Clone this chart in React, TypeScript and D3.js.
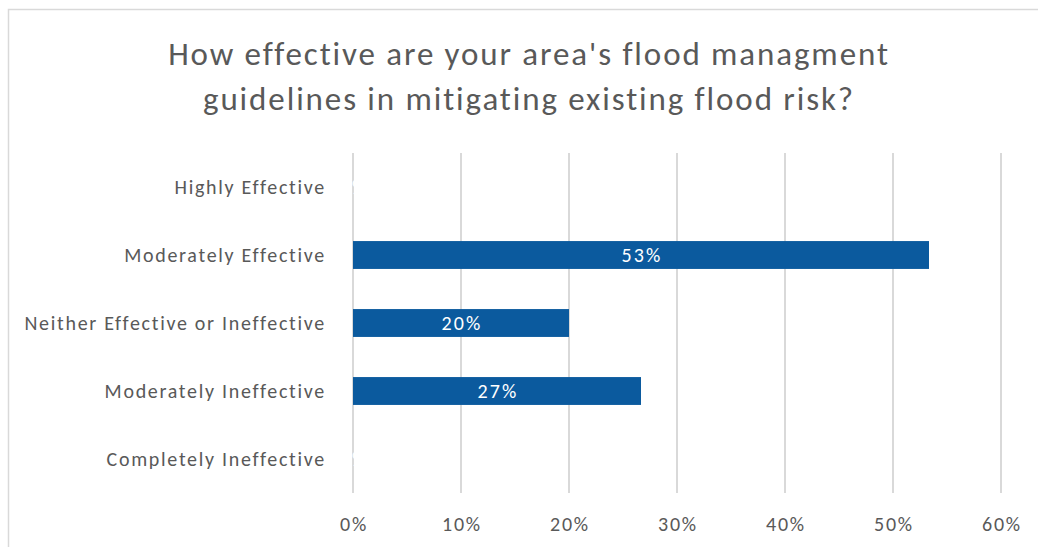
import React from "react";
import * as d3 from "d3";

const title = ["How effective are your area's flood managment", "guidelines in mitigating existing flood risk?"];
const categories = [
  "Highly Effective",
  "Moderately Effective",
  "Neither Effective or Ineffective",
  "Moderately Ineffective",
  "Completely Ineffective",
];
const values = [0, 8 / 15, 3 / 15, 4 / 15, 0];
const ticks = [0, 0.1, 0.2, 0.3, 0.4, 0.5, 0.6];

const W = 1038;
const H = 547;
const FONT = "Carlito, Lato, 'Open Sans', sans-serif";
const TEXT = "#595959";

export default function App() {
  const x = d3.scaleLinear().domain([0, 0.6]).range([353, 1001]);
  const y = d3.scaleBand().domain(categories).range([153, 493]).paddingInner(0.59).paddingOuter(0.295);
  const fmt = d3.format(".0%");
  return (
    <svg width={W} height={H} style={{ position: "absolute", left: 0, top: 0, background: "#fff" }}>
      <rect x={8.5} y={9.5} width={1100} height={600} fill="#fff" stroke="#d9d9d9" strokeWidth={1.5} />
      {title.map((t, i) => (
        <text
          key={i}
          x={528 + 1}
          y={65 + i * 45}
          textAnchor="middle"
          fontFamily={FONT}
          fontSize={33}
          letterSpacing={1.9}
          fill={TEXT}
        >
          {t}
        </text>
      ))}
      {ticks.map((t) => (
        <line key={t} x1={x(t)} x2={x(t)} y1={153} y2={493} stroke="#d9d9d9" strokeWidth={2} />
      ))}
      {categories.map((c, i) => (
        <g key={c}>
          <rect x={x(0)} y={y(c)!} width={x(values[i]) - x(0)} height={y.bandwidth()} fill="#0b5a9e" />
          <text
            x={326}
            y={y(c)! + y.bandwidth() / 2 + 7}
            textAnchor="end"
            fontFamily={FONT}
            fontSize={20}
            letterSpacing={1.7}
            fill={TEXT}
          >
            {c}
          </text>
          <text
            x={x(values[i] / 2) + 1}
            y={y(c)! + y.bandwidth() / 2 + 7}
            textAnchor="middle"
            fontFamily={FONT}
            fontSize={20}
            letterSpacing={2.2}
            fill="#fff"
          >
            {fmt(values[i])}
          </text>
        </g>
      ))}
      {ticks.map((t) => (
        <text
          key={"l" + t}
          x={x(t) + 1}
          y={531}
          textAnchor="middle"
          fontFamily={FONT}
          fontSize={20}
          letterSpacing={1.8}
          fill={TEXT}
        >
          {fmt(t)}
        </text>
      ))}
    </svg>
  );
}
